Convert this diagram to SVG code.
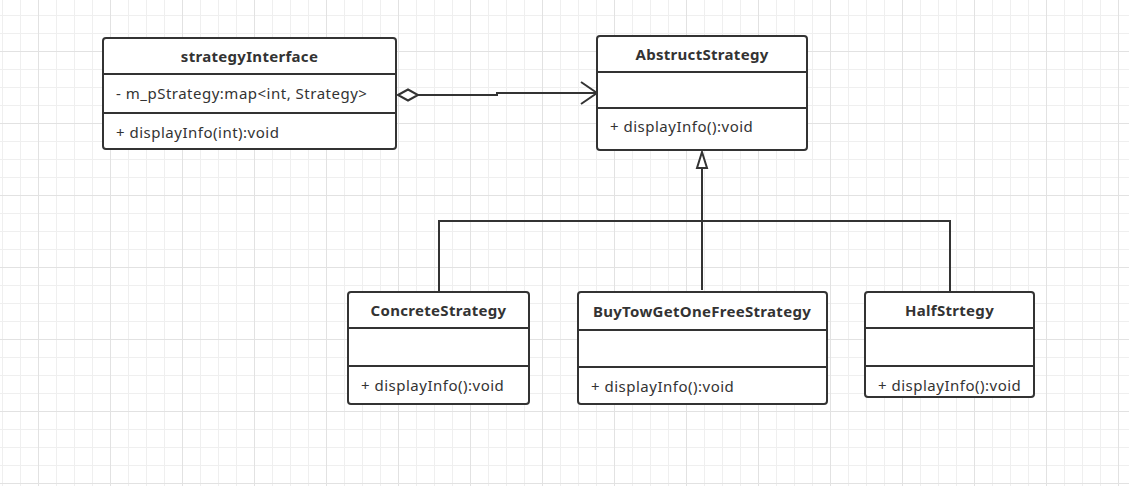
<svg xmlns="http://www.w3.org/2000/svg" width="1129" height="486" viewBox="0 0 1129 486">
<defs>
<pattern id="gMinor" patternUnits="userSpaceOnUse" x="2" y="15" width="18" height="18">
<rect x="0" y="0" width="1" height="18" fill="#efefef"/>
<rect x="0" y="0" width="18" height="1" fill="#efefef"/>
</pattern>
<pattern id="gMajor" patternUnits="userSpaceOnUse" x="38" y="51" width="72" height="72">
<rect x="0" y="0" width="1" height="72" fill="#e2e2e2"/>
<rect x="0" y="0" width="72" height="1" fill="#e2e2e2"/>
</pattern>
<marker id="openArrow" markerUnits="userSpaceOnUse" markerWidth="24" markerHeight="26" refX="17" refY="12" orient="auto" overflow="visible">
<path d="M1 1 L17 12 L1 23" fill="none" stroke="#333" stroke-width="2"/>
</marker>
<marker id="diamond" markerUnits="userSpaceOnUse" markerWidth="26" markerHeight="16" refX="1" refY="7" orient="auto" overflow="visible">
<path d="M1 7 L11 1.5 L21 7 L11 12.5 Z" fill="#fff" stroke="#333" stroke-width="2"/>
</marker>
<marker id="triangle" markerUnits="userSpaceOnUse" markerWidth="14" markerHeight="20" refX="17" refY="6" orient="auto" overflow="visible">
<path d="M17 6 L1 1 L1 11 Z" fill="#fff" stroke="#333" stroke-width="2"/>
</marker>
</defs>
<style>
.box{fill:#fff;stroke:#333;stroke-width:2}
.sep{stroke:#333;stroke-width:2}
.conn{fill:none;stroke:#333;stroke-width:2}
.title{font-family:"Noto Sans","Open Sans",sans-serif;font-size:15px;font-weight:bold;letter-spacing:0.3px;fill:#333;text-anchor:middle;dominant-baseline:central}
.mem{font-family:"Noto Sans","Open Sans",sans-serif;font-size:15px;letter-spacing:0.5px;fill:#333;dominant-baseline:central}
</style>
<rect width="1129" height="486" fill="#fff"/>
<rect width="1129" height="486" fill="url(#gMinor)"/>
<rect width="1129" height="486" fill="url(#gMajor)"/>

<g id="connectors">
<path class="conn" d="M398 95 L497 95 L497 93 L597 93" marker-start="url(#diamond)" marker-end="url(#openArrow)"/>
<path class="conn" d="M702 290 L702 152" marker-end="url(#triangle)"/>
<path class="conn" d="M439 292 L439 221 L950 221 L950 292"/>
</g>

<g id="strategyInterface">
<rect class="box" x="103" y="38" width="293" height="111" rx="3"/>
<line class="sep" x1="103" y1="74" x2="396" y2="74"/>
<line class="sep" x1="103" y1="113" x2="396" y2="113"/>
<text class="title" x="249.5" y="56">strategyInterface</text>
<text class="mem" x="116" y="93">- m_pStrategy:map&lt;int, Strategy&gt;</text>
<text class="mem" x="116" y="132">+ displayInfo(int):void</text>
</g>

<g id="AbstructStrategy">
<rect class="box" x="597" y="36" width="210" height="114" rx="3"/>
<line class="sep" x1="597" y1="72" x2="807" y2="72"/>
<line class="sep" x1="597" y1="108" x2="807" y2="108"/>
<text class="title" x="702" y="54">AbstructStrategy</text>
<text class="mem" x="610" y="126">+ displayInfo():void</text>
</g>

<g id="ConcreteStrategy">
<rect class="box" x="348" y="292" width="181" height="112" rx="3"/>
<line class="sep" x1="348" y1="328" x2="529" y2="328"/>
<line class="sep" x1="348" y1="366" x2="529" y2="366"/>
<text class="title" x="438.5" y="310">ConcreteStrategy</text>
<text class="mem" x="361" y="385">+ displayInfo():void</text>
</g>

<g id="BuyTowGetOneFreeStrategy">
<rect class="box" x="578" y="292" width="249" height="112" rx="3"/>
<line class="sep" x1="578" y1="330" x2="827" y2="330"/>
<line class="sep" x1="578" y1="367" x2="827" y2="367"/>
<text class="title" x="702" y="311">BuyTowGetOneFreeStrategy</text>
<text class="mem" x="591" y="386">+ displayInfo():void</text>
</g>

<g id="HalfStrtegy">
<rect class="box" x="865" y="292" width="169" height="105" rx="3"/>
<line class="sep" x1="865" y1="328" x2="1034" y2="328"/>
<line class="sep" x1="865" y1="366" x2="1034" y2="366"/>
<text class="title" x="949.5" y="310">HalfStrtegy</text>
<text class="mem" x="878" y="385">+ displayInfo():void</text>
</g>
</svg>
